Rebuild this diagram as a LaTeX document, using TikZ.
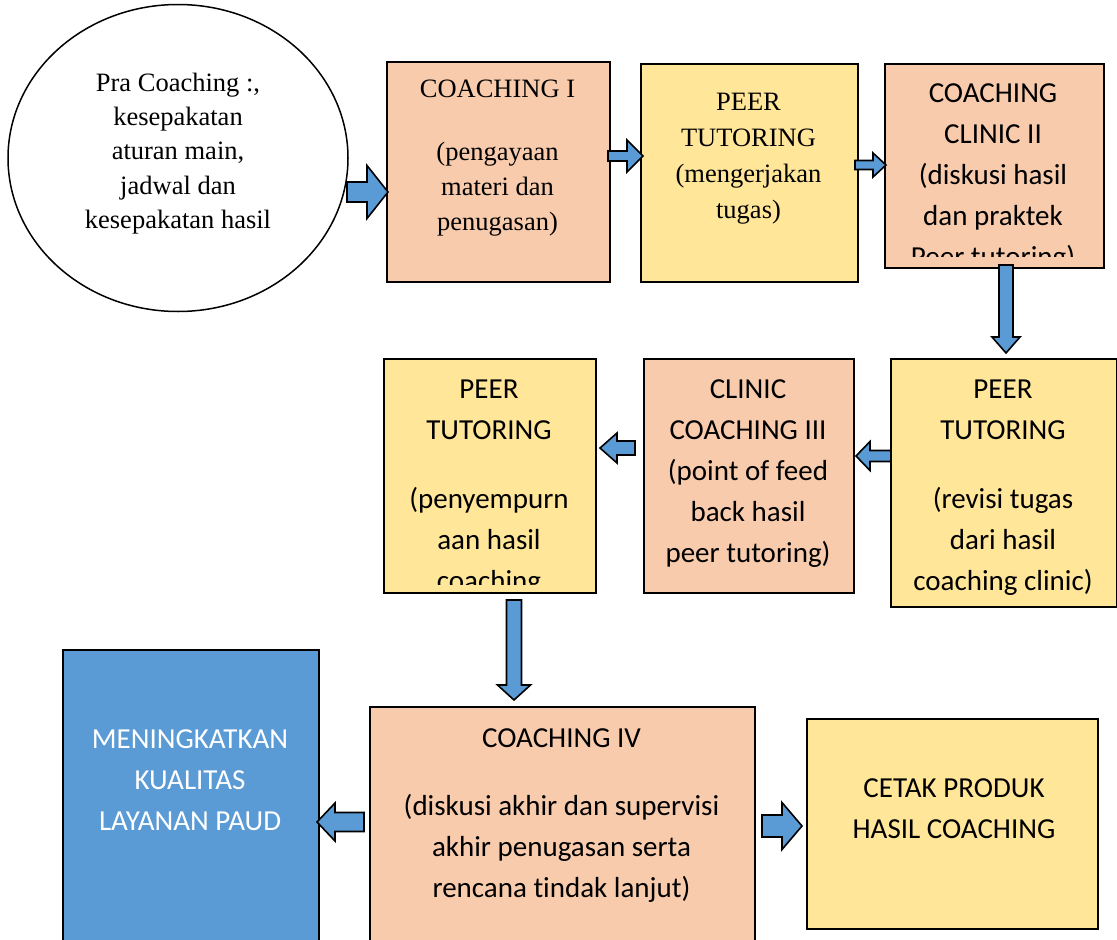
\documentclass[tikz,border=0pt]{standalone}
\usepackage{fontspec}
\setmainfont{Liberation Serif}
\newfontfamily\carlito[Ligatures={NoCommon,NoRare,NoContextual}]{Carlito}
\usetikzlibrary{calc,shapes.geometric}
\definecolor{peach}{HTML}{F8CBAD}
\definecolor{goldfill}{HTML}{FFE699}
\definecolor{bluefill}{HTML}{5B9BD5}
\tikzset{
  box/.style={draw=black, line width=1.5pt, anchor=north west, inner sep=0pt},
  ttext/.style={font=\fontsize{26.5}{35}\selectfont, align=center, anchor=north, inner sep=0pt},
  ctext/.style={font=\carlito\fontsize{29}{41}\selectfont, align=center, anchor=north, inner sep=0pt},
  barrow/.style n args={3}{draw=black, line width=1.6pt, fill=bluefill, line join=miter,
    to path={
      ($(\tikztostart)!#1/2!90:(\tikztotarget)$)
      -- ($(\tikztotarget)!#3!(\tikztostart)!#1/2!90:(\tikztotarget)$)
      -- ($(\tikztotarget)!#3!(\tikztostart)!#2/2!90:(\tikztotarget)$)
      -- (\tikztotarget)
      -- ($(\tikztotarget)!#3!(\tikztostart)!#2/2!-90:(\tikztotarget)$)
      -- ($(\tikztotarget)!#3!(\tikztostart)!#1/2!-90:(\tikztotarget)$)
      -- ($(\tikztostart)!#1/2!-90:(\tikztotarget)$) -- cycle}},
}
\begin{document}
\begin{tikzpicture}[x=1pt,y=-1pt]
\clip (0,0) rectangle (1117,940);
\fill[white] (0,0) rectangle (1117,940);

% circle
\node[draw=black, line width=1.5pt, ellipse, inner sep=0pt, minimum width=340pt, minimum height=307pt] (pra) at (178,158) {};
\node[ttext, font=\fontsize{26.5}{34.3}\selectfont] (prat) at (178,71)
  {\rule{0pt}{20pt}Pra Coaching :,\\kesepakatan\\aturan main,\\jadwal dan\\kesepakatan hasil};

% row 1
\node[box, fill=peach, minimum width=223pt, minimum height=220pt] (b1) at (386,61) {};
\node[ttext] (b1t) at (497.5,77)
  {\rule{0pt}{20pt}COACHING I\\[28pt](pengayaan\\materi dan\\penugasan)};

\node[box, fill=goldfill, minimum width=217pt, minimum height=218pt] (b2) at (640,63) {};
\node[ttext, font=\fontsize{26.5}{36}\selectfont] (b2t) at (748.5,90)
  {\rule{0pt}{20pt}PEER\\TUTORING\\(mengerjakan\\tugas)};

\node[box, fill=peach, minimum width=219pt, minimum height=204pt] (b3) at (884,63) {};
\begin{scope}
  \clip (b3.north west) rectangle ($(b3.south east)+(0,-12)$);
  \node[ctext] (b3t) at (993,82)
    {\rule{0pt}{20pt}COACHING\\CLINIC II\\(diskusi hasil\\dan praktek\\Peer tutoring)};
\end{scope}

% row 2
\node[box, fill=goldfill, minimum width=212pt, minimum height=234pt] (c1) at (383,358) {};
\begin{scope}
  \clip (c1.north west) rectangle ($(c1.south east)+(0,-9)$);
  \node[ctext] (c1t) at (489,378)
    {\rule{0pt}{20pt}PEER\\TUTORING\\[28pt](penyempurn\\aan hasil\\coaching};
\end{scope}

\node[box, fill=peach, minimum width=210pt, minimum height=234pt] (c2) at (643,358) {};
\node[ctext] (c2t) at (748,378)
  {\rule{0pt}{20pt}CLINIC\\COACHING III\\(point of feed\\back hasil\\peer tutoring)};

\node[box, fill=goldfill, minimum width=226pt, minimum height=248pt] (c3) at (890,358) {};
\node[ctext] (c3t) at (1003,378)
  {\rule{0pt}{20pt}PEER\\TUTORING\\[28pt](revisi tugas\\dari hasil\\coaching clinic)};

% row 3
\node[box, fill=bluefill, minimum width=256pt, minimum height=300pt] (d1) at (62,649) {};
\node[ctext, text=white] (d1t) at (190,728)
  {\rule{0pt}{20pt}MENINGKATKAN\\KUALITAS\\LAYANAN PAUD};

\node[box, fill=peach, minimum width=385pt, minimum height=250pt] (d2) at (369,706) {};
\node[ctext] (d2t) at (561.5,727)
  {\rule{0pt}{20pt}COACHING IV\\[27pt](diskusi akhir dan supervisi\\akhir penugasan serta\\rencana tindak lanjut)};

\node[box, fill=goldfill, minimum width=291pt, minimum height=210pt] (d3) at (806,718) {};
\node[ctext] (d3t) at (954,777)
  {\rule{0pt}{20pt}CETAK PRODUK\\HASIL COACHING};

% arrow coordinates
\coordinate (a1s) at (347,192);  \coordinate (a1e) at (388,192);
\coordinate (a2s) at (608,156);  \coordinate (a2e) at (643,156);
\coordinate (a3s) at (855,165);  \coordinate (a3e) at (886,165);
\coordinate (a4s) at (1006,265); \coordinate (a4e) at (1006,353);
\coordinate (a5s) at (891,456);  \coordinate (a5e) at (856,456);
\coordinate (a6s) at (635,448);  \coordinate (a6e) at (600,448);
\coordinate (a7s) at (514,600);  \coordinate (a7e) at (514,700);
\coordinate (a8s) at (364,822);  \coordinate (a8e) at (317,822);
\coordinate (a9s) at (762,826);  \coordinate (a9e) at (802,826);

\draw[barrow={20pt}{53pt}{21pt}] (a1s) to (a1e);
\draw[barrow={10pt}{32pt}{16pt}] (a2s) to (a2e);
\draw[barrow={9pt}{24pt}{13pt}] (a3s) to (a3e);
\draw[barrow={14pt}{28pt}{16pt}] (a4s) to (a4e);
\draw[barrow={11pt}{29pt}{14pt}] (a5s) to (a5e);
\draw[barrow={14pt}{30pt}{17pt}] (a6s) to (a6e);
\draw[barrow={15pt}{33pt}{15pt}] (a7s) to (a7e);
\draw[barrow={19pt}{38pt}{18pt}] (a8s) to (a8e);
\draw[barrow={22pt}{47pt}{20pt}] (a9s) to (a9e);
\end{tikzpicture}
\end{document}
